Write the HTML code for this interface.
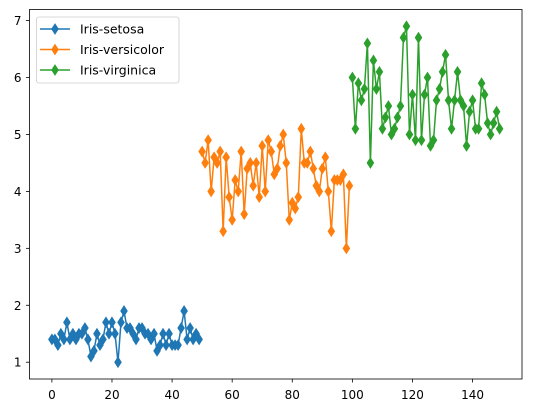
<!DOCTYPE html>
<html><head><meta charset="utf-8"><style>
body{margin:0;background:#fff;}
svg{display:block;font-family:"DejaVu Sans","Liberation Sans",sans-serif;}
</style></head><body>
<svg id="chart" width="534" height="413">
<g id="plot"></g>
</svg>
<script>
const categories = ["Iris-setosa","Iris-versicolor","Iris-virginica"];
const setosa = [1.4,1.4,1.3,1.5,1.4,1.7,1.4,1.5,1.4,1.5,1.5,1.6,1.4,1.1,1.2,1.5,1.3,1.4,1.7,1.5,1.7,1.5,1.0,1.7,1.9,1.6,1.6,1.5,1.4,1.6,1.6,1.5,1.5,1.4,1.5,1.2,1.3,1.5,1.3,1.5,1.3,1.3,1.3,1.6,1.9,1.4,1.6,1.4,1.5,1.4];
const versicolor = [4.7,4.5,4.9,4.0,4.6,4.5,4.7,3.3,4.6,3.9,3.5,4.2,4.0,4.7,3.6,4.4,4.5,4.1,4.5,3.9,4.8,4.0,4.9,4.7,4.3,4.4,4.8,5.0,4.5,3.5,3.8,3.7,3.9,5.1,4.5,4.5,4.7,4.4,4.1,4.0,4.4,4.6,4.0,3.3,4.2,4.2,4.2,4.3,3.0,4.1];
const virginica = [6.0,5.1,5.9,5.6,5.8,6.6,4.5,6.3,5.8,6.1,5.1,5.3,5.5,5.0,5.1,5.3,5.5,6.7,6.9,5.0,5.7,4.9,6.7,4.9,5.7,6.0,4.8,4.9,5.6,5.8,6.1,6.4,5.6,5.1,5.6,6.1,5.6,5.5,4.8,5.4,5.6,5.1,5.1,5.9,5.7,5.2,5.0,5.2,5.4,5.1];
const startIndex = [0,50,100];
const xTicks = [0,20,40,60,80,100,120,140];
const yTicks = [1,2,3,4,5,6,7];

const series = [setosa, versicolor, virginica];
const colors = ["#1f77b4","#ff7f0e","#2ca02c"];
const L=29.5,R=522,T=9.5,B=379;
const xmin=-7.45,xmax=156.45,ymin=0.705,ymax=7.195;
const X=v=>L+(v-xmin)/(xmax-xmin)*(R-L);
const Y=v=>B-(v-ymin)/(ymax-ymin)*(B-T);
const NS="http://www.w3.org/2000/svg";
const g=document.getElementById('plot');
function mk(t,a,p){const e=document.createElementNS(NS,t);for(const k in a)e.setAttribute(k,a[k]);(p||g).appendChild(e);return e;}
function diamond(cx,cy,c,name){
  const e=mk('path',{d:`M${cx},${cy-5}L${cx+3.2},${cy}L${cx},${cy+5}L${cx-3.2},${cy}Z`,fill:c,stroke:c,'stroke-width':1});
  
  
  return e;
}
series.forEach((s,si)=>{
  const pts=s.map((v,i)=>X(startIndex[si]+i).toFixed(2)+','+Y(v).toFixed(2)).join(' ');
  const pl=mk('polyline',{points:pts,fill:'none',stroke:colors[si],'stroke-width':1.5,'stroke-linejoin':'round'});
  
  
  s.forEach((v,i)=>diamond(X(startIndex[si]+i),Y(v),colors[si],'point'));
});
const frame=mk('rect',{x:L,y:T,width:R-L,height:B-T,fill:'none',stroke:'#000','stroke-width':0.8});


xTicks.forEach(t=>{
  mk('line',{x1:X(t),x2:X(t),y1:B,y2:B+3.5,stroke:'#000','stroke-width':0.8});
  const tx=mk('text',{x:X(t),y:B+20,'text-anchor':'middle','font-size':12});
  tx.textContent=t;
  
  
});
yTicks.forEach(t=>{
  mk('line',{x1:L-3.5,x2:L,y1:Y(t),y2:Y(t),stroke:'#000','stroke-width':0.8});
  const tx=mk('text',{x:L-8,y:Y(t)+4.5,'text-anchor':'end','font-size':12});
  tx.textContent=t;
  
  
});
// legend
const lg=mk('g',{});


mk('rect',{x:36.5,y:17,width:142.5,height:66,rx:2.5,fill:'#fff','fill-opacity':0.8,stroke:'#ccc','stroke-width':0.8},lg);
categories.forEach((c,i)=>{
  const y=29+i*20.5;
  const e=mk('g',{},lg);
  
  
  mk('line',{x1:40,x2:70,y1:y,y2:y,stroke:colors[i],'stroke-width':1.5},e);
  e.appendChild(diamond(55,y,colors[i],'legend-marker'));
  const t=mk('text',{x:80,y:y+4.5,'font-size':12.5},e);
  t.textContent=c;
});
</script>
</body></html>
